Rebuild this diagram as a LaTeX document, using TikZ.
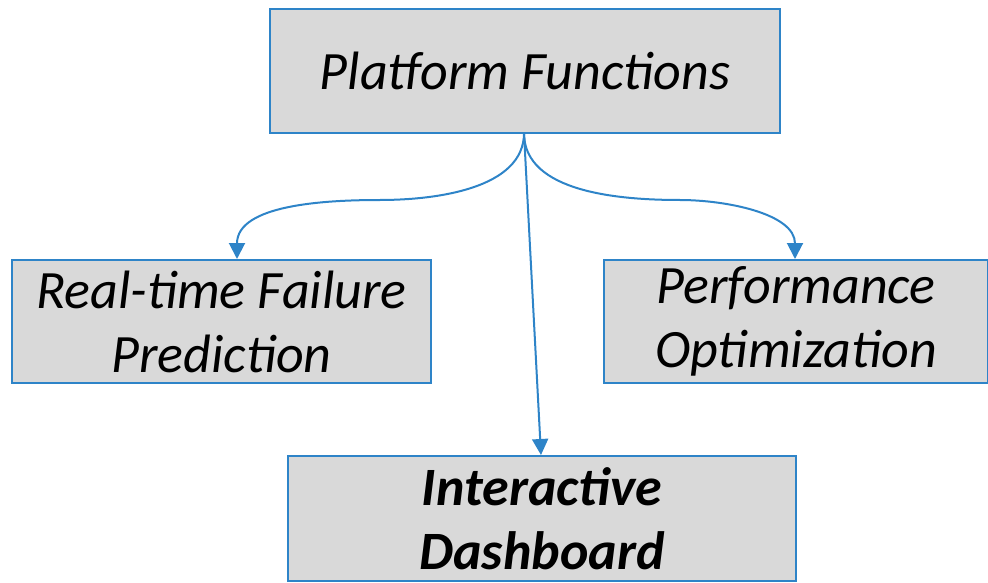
\documentclass[tikz,border=0pt]{standalone}
\usepackage{fontspec}
\setmainfont{Carlito}
\usetikzlibrary{arrows.meta}
\definecolor{edgeblue}{RGB}{46,132,200}
\definecolor{boxgray}{RGB}{217,217,217}
\begin{document}
\begin{tikzpicture}[x=1pt,y=-1pt,
  box/.style={draw=edgeblue,line width=2pt,fill=boxgray,inner sep=0pt,anchor=north west,align=center,font=\fontsize{54}{64}\selectfont\itshape},
  conn/.style={draw=edgeblue,line width=2pt,-{Triangle[length=16pt,width=16pt]}}]
\useasboundingbox (0,0) rectangle (988,583);
\node[box,minimum width=510pt,minimum height=124pt] (pf) at (269,8) {Platform Functions};
\node[box,minimum width=419pt,minimum height=123pt] (rt) at (11,259) {Real-time Failure\\Prediction};
\node[box,minimum width=384pt,minimum height=123pt] (po) at (603,259) {Performance\\Optimization};
\node[box,minimum width=508pt,minimum height=125pt,font=\fontsize{54}{64}\selectfont\bfseries\itshape] (id) at (287,455) {Interactive\\Dashboard};
\coordinate (s) at (524,133);
\coordinate (ml) at (380,200);
\coordinate (mr) at (680,200);
\draw[conn] (s) to[out=-90,in=0,looseness=0.9] (ml) to[out=180,in=90,looseness=0.9] (rt.north west -| 237,0);
\draw[conn] (s) to[out=-90,in=180,looseness=0.9] (mr) to[out=0,in=90,looseness=0.9] (po.north west -| 795,0);
\draw[conn] (s) -- (id.north west -| 541,0);
\end{tikzpicture}
\end{document}
